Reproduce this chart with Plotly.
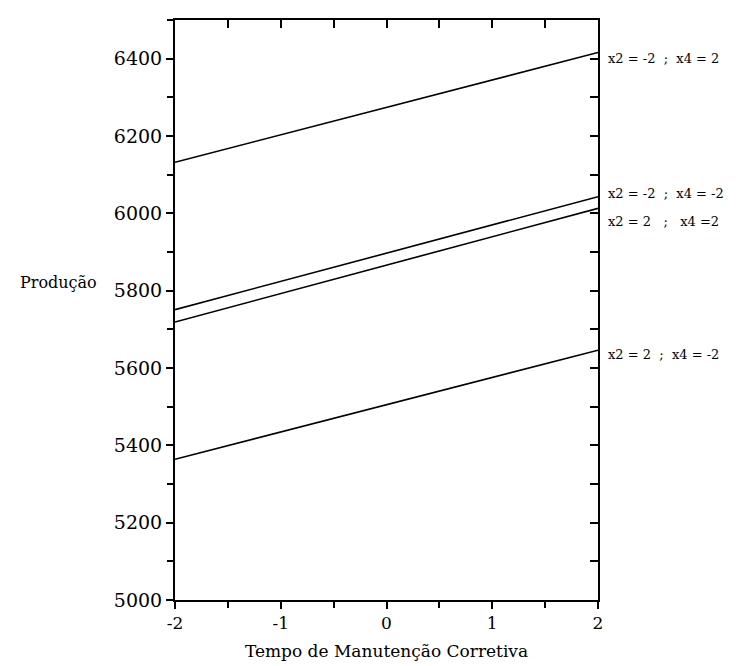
import plotly.graph_objects as go

x_vals = [-2, 2]
series_labels = [
    "x2 = -2  ;  x4 = 2",
    "x2 = -2  ;  x4 = -2",
    "x2 = 2   ;   x4 =2",
    "x2 = 2  ;  x4 = -2",
]
y_a = [6132, 6416]   # x2=-2 ; x4=2
y_b = [5751, 6043]   # x2=-2 ; x4=-2
y_c = [5719, 6013]   # x2=2 ; x4=2
y_d = [5364, 5646]   # x2=2 ; x4=-2
label_y = [6400, 6052, 5980, 5636]

x_ticks = [-2, -1, 0, 1, 2]
x_tick_text = ["-2", "-1", "0", "1", "2"]
y_ticks = [5000, 5200, 5400, 5600, 5800, 6000, 6200, 6400]

FONT = "DejaVu Serif, Liberation Serif, serif"

fig = go.Figure()
for ys in (y_a, y_b, y_c, y_d):
    fig.add_trace(go.Scatter(x=x_vals, y=ys, mode="lines",
                             line=dict(color="black", width=1.6),
                             showlegend=False, hoverinfo="skip"))
# invisible trace to carry the mirrored (top/right) axes
fig.add_trace(go.Scatter(x=x_vals, y=y_a, mode="lines", opacity=0,
                         xaxis="x2", yaxis="y2", showlegend=False, hoverinfo="skip"))

for lab, ly in zip(series_labels, label_y):
    fig.add_annotation(text=lab.replace(" ", "\u00a0"), xref="paper", yref="y",
                       x=1, y=ly, xanchor="left", yanchor="middle", xshift=8,
                       showarrow=False, font=dict(family=FONT, size=13, color="black"))

fig.add_annotation(text="Produção", xref="paper", yref="paper",
                   x=-0.371, y=0.547, xanchor="left", yanchor="middle",
                   showarrow=False, font=dict(family=FONT, size=16, color="black"))

axis_common = dict(showgrid=False, zeroline=False, showline=True,
                   linecolor="black", linewidth=2)

fig.update_layout(
    width=736, height=666,
    margin=dict(l=167, r=146, t=12, b=74),
    paper_bgcolor="white", plot_bgcolor="white",
    font=dict(family=FONT, size=18, color="black"),
    xaxis=dict(range=[-2, 2], tickvals=x_ticks, ticktext=x_tick_text,
               ticks="outside", ticklen=7, tickwidth=2, tickcolor="black",
               tickfont=dict(family=FONT, size=17),
               minor=dict(dtick=0.5, tick0=-2, ticks="outside", ticklen=6,
                          tickwidth=2, tickcolor="black"),
               title=dict(text="Tempo de Manutenção Corretiva",
                          font=dict(family=FONT, size=17), standoff=13),
               **axis_common),
    yaxis=dict(range=[5000, 6500], tickvals=y_ticks, ticks="outside", ticklen=7,
               tickwidth=2, tickcolor="black",
               tickfont=dict(family=FONT, size=19),
               minor=dict(dtick=100, tick0=5000, ticks="outside", ticklen=6,
                          tickwidth=2, tickcolor="black"),
               **axis_common),
    xaxis2=dict(range=[-2, 2], overlaying="x", side="top", dtick=0.5, tick0=-2,
                ticks="inside", ticklen=8, tickwidth=2, tickcolor="black",
                showticklabels=False, **axis_common),
    yaxis2=dict(range=[5000, 6500], overlaying="y", side="right", dtick=100, tick0=5000,
                ticks="inside", ticklen=8, tickwidth=2, tickcolor="black",
                showticklabels=False, **axis_common),
)

fig.write_html("out.html")
